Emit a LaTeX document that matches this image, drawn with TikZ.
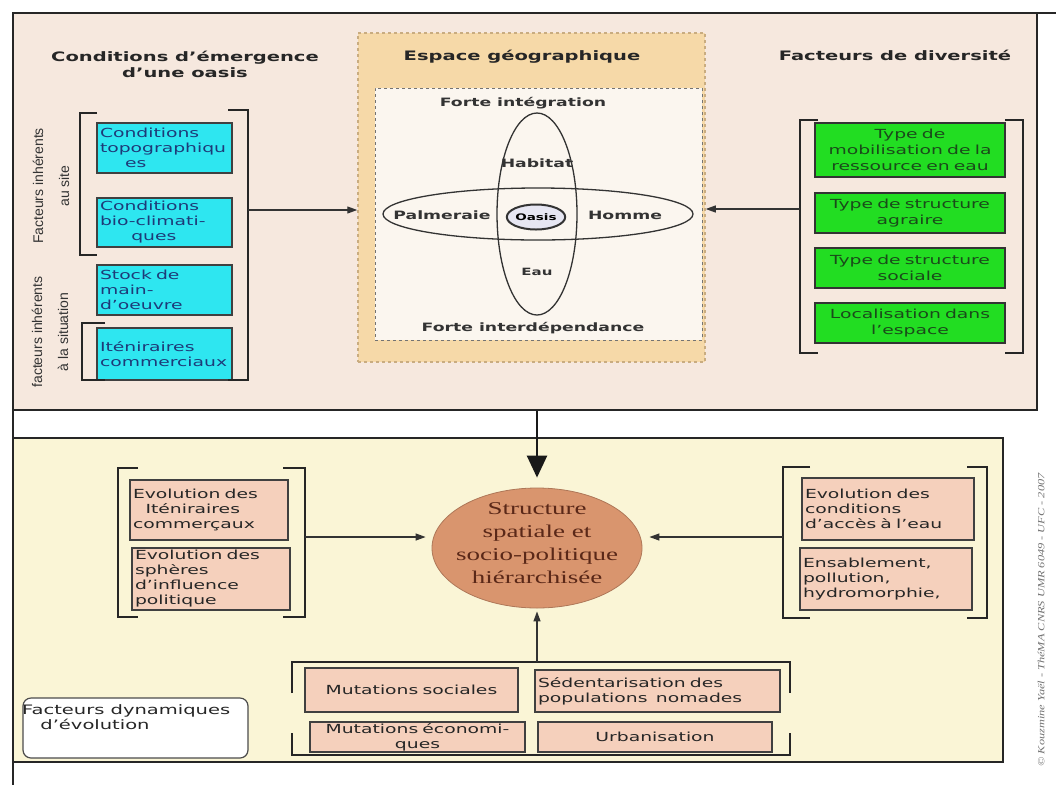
\documentclass[tikz,border=0pt]{standalone}
\usepackage{fontspec}
\setmainfont{DejaVu Sans}[FakeStretch=1.5]
\newfontfamily\serifelargi{Liberation Serif}[FakeStretch=1.5]
\newfontfamily\etroite{Liberation Sans}
\newfontfamily\creditfont{Liberation Serif}[FakeStretch=1.3]
\usetikzlibrary{shapes.geometric,arrows.meta}

\definecolor{fondhaut}{HTML}{F6E8DE}
\definecolor{fondbas}{HTML}{FAF5D6}
\definecolor{espacefond}{HTML}{F6D9A8}
\definecolor{espacebord}{HTML}{C9AC80}
\definecolor{integrfond}{HTML}{FBF6EF}
\definecolor{cyanfond}{HTML}{2EE6F0}
\definecolor{cyantexte}{HTML}{1E3A78}
\definecolor{vertfond}{HTML}{22DD22}
\definecolor{verttexte}{HTML}{1A4A1A}
\definecolor{rosefond}{HTML}{F5D0BC}
\definecolor{structfond}{HTML}{D9956E}
\definecolor{structtexte}{HTML}{5A2818}
\definecolor{oasisfond}{HTML}{E6E6F2}

\tikzset{
  titre/.style={font=\bfseries\fontsize{13}{16}\selectfont, text=black!85, align=center},
  etiquette/.style={font=\bfseries\fontsize{11.5}{14}\selectfont, text=black!80},
  cyanbox/.style={draw=black!75, line width=1.2pt, fill=cyanfond, minimum width=135,
    text width=129, inner xsep=3, inner ysep=0, align=left,
    font=\fontsize{12.5}{15}\selectfont, text=cyantexte},
  vertbox/.style={draw=black!80, line width=1.5pt, fill=vertfond, minimum width=190,
    text width=184, inner xsep=3, inner ysep=0, align=center,
    font=\fontsize{12.5}{16}\selectfont, text=verttexte},
  rosebox/.style={draw=black!75, line width=1.2pt, fill=rosefond, inner xsep=3,
    inner ysep=0, align=left, font=\fontsize{12.5}{15}\selectfont, text=black!85},
  anneau/.style={ellipse, draw=black!80, line width=1.3pt, inner sep=0},
  crochet/.style={draw=black!85, line width=2pt},
  fleche/.style={draw=black!80, line width=1.2pt, -{Triangle[length=10pt,width=7pt]}},
  grossefleche/.style={draw=black!90, line width=2.4pt, -{Triangle[length=22pt,width=20pt]}},
  cote/.style={font=\etroite\fontsize{14}{26}\selectfont, text=black!80, align=center, rotate=90}
}

\begin{document}
\begin{tikzpicture}[x=1pt,y=-1pt]
      \useasboundingbox (0,0) rectangle (1056,785);
      \fill[white] (0,0) rectangle (1056,785);
      \node[draw=black!85, line width=2pt, fill=fondhaut, minimum width=1024, minimum height=397, inner sep=0] (haut) at (525,211.5) {};
      \node[draw=black!85, line width=2pt, fill=fondbas, minimum width=990, minimum height=324, inner sep=0] (bas) at (508,600) {};
      \draw[line width=2.5pt, black!85] (13,13) -- (13,785);
      \draw[line width=2pt, black!85] (13,13) -- (1056,13);

      \node[titre] (condT) at (185,64) {Conditions d'émergence\\d'une oasis};
      \node[titre] (diversT) at (895,55) {Facteurs de diversité};

      \node[draw=espacebord, dashed, line width=1.5pt, fill=espacefond, minimum width=347, minimum height=329, inner sep=0] (espace) at (531.5,197.5) {};
      \node[titre] (espaceT) at (522,57) {Espace géographique};
      \node[draw=black!55, dashed, line width=1pt, fill=integrfond, minimum width=327, minimum height=252, inner sep=0] (integr) at (538.5,214) {};
      \node[etiquette] (forteI) at (523,103) {Forte intégration};
      \node[etiquette] (forteD) at (533,328) {Forte interdépendance};
      \node[anneau, minimum width=80, minimum height=202] (vertical) at (537,214) {};
      \node[anneau, minimum width=310, minimum height=52] (horizontal) at (538,214) {};
      \node[anneau, line width=2pt, fill=oasisfond, minimum width=58, minimum height=25, font=\bfseries\fontsize{9}{10}\selectfont] (oasis) at (536,217) {Oasis};
      \node[etiquette] (habitat) at (537,163) {Habitat};
      \node[etiquette] (palmeraie) at (442,215) {Palmeraie};
      \node[etiquette] (homme) at (625,215) {Homme};
      \node[etiquette, font=\bfseries\fontsize{10}{12}\selectfont] (eau) at (537,272) {Eau};

      \node[cote] (site) at (51,186) {Facteurs inhérents\\au site};
      \node[cote] (situation) at (50,332) {facteurs inhérents\\à la situation};
      \node[cyanbox, minimum height=50] (topo) at (164.5,148) {Conditions\\topographiqu\\\hspace{2em}es};
      \node[cyanbox, minimum height=49] (bioclim) at (164.5,222.5) {Conditions\\bio-climati-\\\hspace{2.5em}ques};
      \node[cyanbox, minimum height=50] (stock) at (164.5,290) {Stock de\\main-\\d'oeuvre};
      \node[cyanbox, minimum height=52] (itin) at (164.5,354) {Iténiraires\\commerciaux};
      \draw[crochet] (97,113) -- (80,113) -- (80,255) -- (97,255);
      \draw[crochet] (228,110) -- (248,110) -- (248,380) -- (228,380);
      \draw[crochet] (105,323) -- (82,323) -- (82,380) -- (105,380);

      \node[vertbox, minimum height=54] (mobil) at (910,150) {Type de\\mobilisation de la\\ressource en eau};
      \node[vertbox, minimum height=40] (agraire) at (910,213) {Type de structure\\agraire};
      \node[vertbox, minimum height=40] (sociale) at (910,268) {Type de structure\\sociale};
      \node[vertbox, minimum height=40] (localis) at (910,323) {Localisation dans\\l'espace};
      \draw[crochet] (818,120) -- (800,120) -- (800,353) -- (818,353);
      \draw[crochet] (1005,120) -- (1023,120) -- (1023,353) -- (1005,353);

      \coordinate (crochetG) at (248,210);
      \coordinate (crochetD) at (800,209);
      \draw[fleche] (crochetG) -- (crochetG -| espace.west);
      \draw[fleche] (crochetD) -- (crochetD -| espace.east);

      \node[ellipse, draw=structfond!80!black, line width=0.8pt, fill=structfond, minimum width=210, minimum height=120, inner sep=0] (struct) at (537,548) {};
      \node[font=\serifelargi\fontsize{18}{23}\selectfont, text=structtexte, align=center] (structT) at (537,543) {Structure\\spatiale et\\socio-politique\\hiérarchisée};
      \draw[grossefleche, shorten >=10pt] (struct |- haut.south) -- (struct.north);

      \node[rosebox, minimum width=158, text width=152, minimum height=60] (evItin) at (209,510) {Evolution des\\\hspace{1em}Iténiraires\\commerçaux};
      \node[rosebox, minimum width=158, text width=152, minimum height=62] (evSpheres) at (211,579) {Evolution des\\sphères\\d'influence\\politique};
      \draw[crochet] (138,468) -- (118,468) -- (118,617) -- (138,617);
      \draw[crochet] (283,468) -- (305,468) -- (305,617) -- (283,617);

      \node[rosebox, minimum width=172, text width=166, minimum height=62] (evEau) at (888,509) {Evolution des\\conditions\\d'accès à l'eau};
      \node[rosebox, minimum width=172, text width=166, minimum height=62] (ensabl) at (886,579) {Ensablement,\\pollution,\\hydromorphie,};
      \draw[crochet] (810,467) -- (783,467) -- (783,618) -- (810,618);
      \draw[crochet] (967,467) -- (987,467) -- (987,618) -- (967,618);

      \coordinate (crochetBG) at (305,537);
      \coordinate (crochetBD) at (783,537);
      \draw[fleche, shorten >=6pt] (crochetBG) -- (crochetBG -| struct.west);
      \draw[fleche, shorten >=7pt] (crochetBD) -- (crochetBD -| struct.east);

      \node[rosebox, minimum width=213, text width=207, minimum height=44, align=center] (mutSoc) at (411.5,690) {Mutations sociales};
      \node[rosebox, minimum width=245, text width=239, minimum height=42] (sedent) at (657.5,691) {Sédentarisation des\\populations\ \ nomades};
      \node[rosebox, minimum width=215, text width=209, minimum height=30, align=center] (mutEco) at (417.5,737) {Mutations économi-\\ques};
      \node[rosebox, minimum width=234, text width=228, minimum height=30, align=center] (urban) at (655,737) {Urbanisation};
      \draw[crochet] (292,693) -- (292,662) -- (790,662) -- (790,693);
      \draw[crochet] (292,733) -- (292,755) -- (790,755) -- (790,733);
      \coordinate (groupe) at (537,662);
      \draw[fleche, shorten >=3pt] (groupe) -- (struct.south);

      \node[draw=black!70, line width=1.2pt, rounded corners=8pt, fill=white, minimum width=225, minimum height=60, inner sep=0] (dynam) at (135.5,728) {};
      \node[anchor=north west, inner sep=0, align=left, font=\fontsize{13}{15}\selectfont, text=black!85] (dynamT) at (22,704) {Facteurs dynamiques\\\hspace{1.4em}d'évolution};

      \node[rotate=90, font=\creditfont\itshape\fontsize{9.5}{11}\selectfont, text=black!55] (credit) at (1041,620) {© Kouzmine Yaël - ThéMA CNRS UMR 6049 - UFC - 2007};
\end{tikzpicture}
\end{document}
